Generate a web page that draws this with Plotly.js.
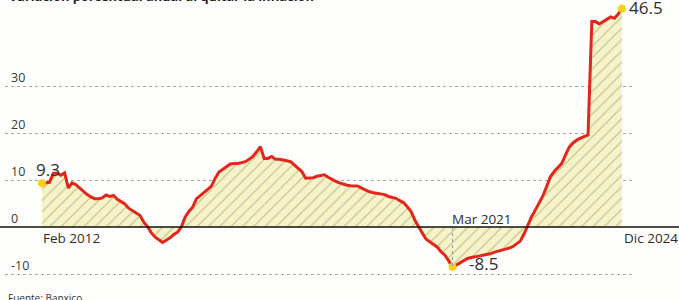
<!DOCTYPE html>
<html>
<head>
<meta charset="utf-8">
<script src="https://cdn.plot.ly/plotly-3.0.1.min.js"></script>
<style>html,body{margin:0;padding:0;background:#fdfefb;}#chart{width:679px;height:300px;}</style>
</head>
<body>
<div id="chart"></div>
<script>
// Monthly series, Feb 2012 (index 0) .. Dic 2024 (index 154)
const values = [
  9.3, 9.4, 9.5, 11.4, 11.5, 11.0, 11.5, 8.3, 9.4, 9.0, 8.3,          // 2012 Feb-Dic
  7.4, 6.9, 6.4, 6.0, 6.0, 6.2, 6.8, 6.5, 6.7, 5.9, 5.4, 4.9,        // 2013
  4.0, 3.4, 3.0, 2.5, 1.1, 0.1, -1.2, -2.1, -2.7, -3.3, -2.8, -2.3,  // 2014
  -1.6, -1.1, 0.0, 2.1, 3.3, 4.2, 6.0, 6.6, 7.2, 8.0, 8.7, 10.4,     // 2015
  11.7, 12.3, 12.8, 13.4, 13.5, 13.5, 13.7, 13.9, 14.4, 15.0, 16.0, 17.1, // 2016
  14.6, 14.6, 15.0, 14.4, 14.4, 14.3, 14.1, 13.9, 13.2, 12.5, 11.8, 10.4, // 2017
  10.4, 10.5, 10.8, 10.9, 11.1, 10.6, 10.1, 9.7, 9.4, 9.1, 8.9, 8.8, // 2018
  8.7, 8.7, 8.2, 7.8, 7.5, 7.3, 7.2, 7.0, 6.9, 6.5, 6.3, 6.1,        // 2019
  5.6, 5.2, 4.3, 3.3, 1.5, 0.0, -1.3, -2.6, -3.2, -3.7, -4.3, -5.3,  // 2020
  -6.0, -7.2, -8.5, -8.1, -7.6, -7.1, -6.7, -6.5, -6.4, -6.2, -6.0, -5.9, // 2021
  -5.7, -5.4, -5.2, -5.0, -4.8, -4.5, -4.2, -3.5, -3.0, -1.5, 0.3, 2.2,   // 2022
  3.6, 5.0, 6.6, 8.6, 10.7, 11.8, 12.6, 13.5, 15.3, 17.0, 17.9, 18.5,     // 2023
  18.9, 19.3, 19.6, 43.7, 43.7, 43.2, 43.7, 44.1, 44.7, 44.4, 45.3, 46.5  // 2024
];
// highlighted points (month index) and their labels
const markIdx = [0, 109, 154];
const markLabels = ['9.3', '-8.5', '46.5'];
const xTickLabels = ['Feb 2012', 'Mar 2021', 'Dic 2024'];
const xTickIdx = [0, 109, 154];
const yTicks = [30, 20, 10, 0, -10];
const yTickLabels = ['30', '20', '10', '0', '-10'];
const titleText = 'Variación porcentual anual al quitar la inflación';
const sourceText = 'Fuente: Banxico.';

const markVals = markIdx.map(i => values[i]);

const traces = [
  {
    type: 'scatter', mode: 'lines', y: values, x0: 0, dx: 1,
    line: {color: '#e3261b', width: 3, shape: 'linear'},
    fill: 'tozeroy',
    fillcolor: 'rgba(0,0,0,0)',
    fillpattern: {shape: '/', bgcolor: '#f5f3cc', fgcolor: '#c4bb7c', size: 8, solidity: 0.14},
    hoverinfo: 'y'
  },
  {
    type: 'scatter', mode: 'markers', x: markIdx, y: markVals,
    marker: {color: '#f7d21a', size: 8},
    hoverinfo: 'skip'
  }
];

const F = '"Open Sans", "DejaVu Sans", sans-serif';
const NUM = {family: F, size: 17, color: '#2e2e2e'};
const LAB = {family: F, size: 13.5, color: '#2e2e2e'};
const W = 679, H = 300, ml = 5, mr = 47;
const pw = W - ml - mr;
const px2paper = p => (p - ml) / pw;
const py2paper = p => 1 - p / H;

const annotations = [];
// value labels
annotations.push({x: 1.6, y: 12.2, xref: 'x', yref: 'y', text: markLabels[0], showarrow: false, xanchor: 'center', yanchor: 'middle', font: NUM});
annotations.push({x: 112.9, y: -7.8, xref: 'x', yref: 'y', text: markLabels[1], showarrow: false, xanchor: 'left', yanchor: 'middle', font: NUM});
annotations.push({x: 155.3, y: 46.6, xref: 'x', yref: 'y', text: markLabels[2], showarrow: false, xanchor: 'left', yanchor: 'middle', font: NUM});
// x labels
annotations.push({x: xTickIdx[0] - 0.3, y: -2.3, xref: 'x', yref: 'y', text: xTickLabels[0], showarrow: false, xanchor: 'left', yanchor: 'middle', font: LAB});
annotations.push({x: xTickIdx[1] - 0.6, y: 1.7, xref: 'x', yref: 'y', text: xTickLabels[1], showarrow: false, xanchor: 'left', yanchor: 'middle', font: LAB});
annotations.push({x: xTickIdx[2] + 0.1, y: -2.3, xref: 'x', yref: 'y', text: xTickLabels[2], showarrow: false, xanchor: 'left', yanchor: 'middle', font: LAB});
// y labels (above grid lines)
yTicks.forEach((v, i) => {
  annotations.push({x: px2paper(9), y: v + 1.9, xref: 'paper', yref: 'y', text: yTickLabels[i], showarrow: false, xanchor: 'left', yanchor: 'middle', font: {family: F, size: 12.5, color: '#3a3a3a'}});
});
// title and source
annotations.push({x: px2paper(7), y: py2paper(7), xref: 'paper', yref: 'paper', text: '<b>' + titleText + '</b>', showarrow: false, xanchor: 'left', yanchor: 'bottom', font: {family: F, size: 12.8, color: '#1e1e1e'}});
annotations.push({x: px2paper(6), y: py2paper(298), xref: 'paper', yref: 'paper', text: sourceText, showarrow: false, xanchor: 'left', yanchor: 'middle', font: {family: F, size: 10, color: '#333'}});

const layout = {
  width: W, height: H,
  margin: {l: ml, r: mr, t: 0, b: 0},
  paper_bgcolor: '#fdfefb', plot_bgcolor: 'rgba(0,0,0,0)',
  showlegend: false,
  xaxis: {range: [-9.82, 156.67], visible: false, fixedrange: true},
  yaxis: {range: [-15.53, 48.3], tickvals: [-10, 10, 20, 30], showticklabels: false,
          showgrid: true, gridcolor: '#a8a8a8', gridwidth: 1, griddash: 'dot', zeroline: false, showline: false, ticks: ''},
  shapes: [
    {type: 'line', xref: 'x', yref: 'y', x0: xTickIdx[1], x1: xTickIdx[1], y0: 0, y1: values[109], line: {color: '#9a9a9a', width: 1, dash: 'dot'}, layer: 'above'},
    {type: 'line', xref: 'paper', yref: 'y', x0: -0.01, x1: 1.08, y0: 0, y1: 0, line: {color: '#111', width: 1.3}, layer: 'above'}
  ],
  annotations: annotations
};

Plotly.newPlot('chart', traces, layout, {displayModeBar: false, staticPlot: true});
</script>
</body>
</html>
